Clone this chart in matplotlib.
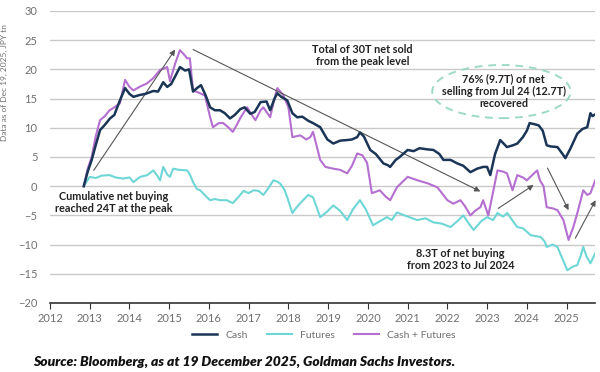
import matplotlib
matplotlib.use("Agg")
import matplotlib.pyplot as plt
from matplotlib.patches import Ellipse

plt.rcParams['font.family'] = ['Lato', 'DejaVu Sans']

# --- data (decimal years, JPY tn) ---
cash_t = [2012.85, 2012.95, 2013.05, 2013.15, 2013.26, 2013.38, 2013.51, 2013.62, 2013.76, 2013.89,
          2014.0, 2014.1, 2014.25, 2014.4, 2014.6, 2014.72, 2014.85, 2014.95, 2015.05, 2015.15,
          2015.27, 2015.4, 2015.5, 2015.6, 2015.7, 2015.8, 2015.92, 2016.03, 2016.15, 2016.28,
          2016.4, 2016.53, 2016.65, 2016.79, 2016.9, 2017.04, 2017.15, 2017.3, 2017.45, 2017.54,
          2017.65, 2017.72, 2017.82, 2017.97, 2018.1, 2018.22, 2018.35, 2018.5, 2018.62, 2018.8,
          2018.98, 2019.13, 2019.3, 2019.48, 2019.6, 2019.73, 2019.8, 2019.9, 2020.06, 2020.2,
          2020.39, 2020.5, 2020.56, 2020.7, 2020.8, 2021.0, 2021.15, 2021.3, 2021.5, 2021.65,
          2021.8, 2021.9, 2022.08, 2022.25, 2022.4, 2022.58, 2022.75, 2022.9, 2023.0, 2023.08,
          2023.2, 2023.33, 2023.5, 2023.65, 2023.76, 2023.9, 2024.0, 2024.07, 2024.2, 2024.3,
          2024.4, 2024.5, 2024.6, 2024.77, 2024.9, 2024.97, 2025.1, 2025.27, 2025.4, 2025.52,
          2025.6, 2025.65, 2025.72]
cash = [0, 2.5, 4.5, 7, 9.6, 10.5, 11.6, 12.2, 14.7, 16.8,
        15.8, 15.3, 15.6, 15.8, 16.3, 16.2, 17.8, 17.0, 17.5, 18.8,
        20.4, 19.8, 20.0, 16.2, 16.8, 17.3, 15.5, 13.5, 13.0, 13.0,
        12.5, 11.6, 12.2, 13.2, 13.5, 12.4, 12.7, 14.4, 14.5, 13.0,
        15.0, 15.9, 15.3, 14.7, 12.5, 11.8, 11.9, 11.2, 10.8, 10.1,
        8.0, 7.3, 7.8, 7.9, 8.0, 8.4, 9.2, 8.5, 6.2, 5.5,
        3.9, 3.6, 3.3, 4.5, 5.0, 6.2, 6.0, 6.5, 6.3, 6.2,
        5.5, 4.5, 4.5, 3.9, 3.5, 2.4, 3.0, 3.3, 3.3, 1.9,
        5.5, 7.9, 6.7, 7.0, 7.3, 8.4, 9.5, 10.8, 10.6, 10.4,
        9.5, 7.0, 6.8, 6.7, 5.5, 4.8, 6.5, 9.0, 9.8, 10.1,
        12.5, 12.0, 12.3]

fut_t = [2012.85, 2013.0, 2013.15, 2013.3, 2013.5, 2013.65, 2013.84, 2014.0, 2014.1, 2014.27,
         2014.45, 2014.6, 2014.7, 2014.77, 2014.85, 2014.95, 2015.02, 2015.1, 2015.25, 2015.45,
         2015.52, 2015.6, 2015.7, 2015.78, 2015.95, 2016.03, 2016.15, 2016.28, 2016.45, 2016.6,
         2016.75, 2016.87, 2017.0, 2017.12, 2017.25, 2017.37, 2017.5, 2017.62, 2017.72, 2017.8,
         2017.9, 2017.97, 2018.1, 2018.22, 2018.37, 2018.5, 2018.62, 2018.8, 2018.95, 2019.13,
         2019.3, 2019.48, 2019.62, 2019.8, 2019.95, 2020.13, 2020.3, 2020.48, 2020.6, 2020.73,
         2021.0, 2021.24, 2021.45, 2021.65, 2021.85, 2022.08, 2022.25, 2022.4, 2022.55, 2022.66,
         2022.85, 2023.0, 2023.15, 2023.26, 2023.4, 2023.51, 2023.65, 2023.76, 2023.9, 2024.1,
         2024.35, 2024.45, 2024.5, 2024.65, 2024.77, 2024.9, 2025.02, 2025.15, 2025.27, 2025.35,
         2025.42, 2025.5, 2025.6, 2025.72]
futures = [0, 1.6, 1.4, 1.8, 1.9, 1.5, 1.3, 1.5, 0.7, 1.6,
           1.9, 2.7, 1.8, 1.0, 3.3, 2.0, 1.6, 3.0, 2.8, 2.7,
           2.0, 0.7, -0.5, -0.7, -1.9, -2.4, -2.2, -2.4, -2.4, -2.9,
           -1.8, -0.8, -1.2, -0.7, -0.8, -1.5, -0.3, 1.0, 0.8, 0.4,
           -0.6, -1.9, -4.6, -3.5, -2.4, -1.5, -1.9, -5.3, -4.5, -3.3,
           -4.2, -5.8, -4.0, -2.4, -4.0, -6.7, -6.0, -5.3, -5.8, -4.5,
           -5.2, -5.8, -5.5, -6.2, -6.4, -7.0, -6.0, -5.0, -6.5, -7.5,
           -6.0, -5.3, -5.8, -4.6, -5.2, -4.6, -6.0, -7.0, -7.2, -8.4,
           -8.7, -9.5, -10.4, -10.0, -10.4, -12.5, -14.4, -13.8, -13.5, -12.0,
           -10.4, -12.0, -13.2, -11.5]

both_t = [2012.85, 2012.95, 2013.05, 2013.15, 2013.26, 2013.38, 2013.5, 2013.62, 2013.76, 2013.89,
          2014.0, 2014.1, 2014.25, 2014.44, 2014.6, 2014.77, 2014.95, 2015.02, 2015.15, 2015.27,
          2015.38, 2015.45, 2015.52, 2015.6, 2015.75, 2015.9, 2016.03, 2016.1, 2016.25, 2016.36,
          2016.5, 2016.6, 2016.7, 2016.8, 2016.96, 2017.1, 2017.17, 2017.3, 2017.37, 2017.54,
          2017.65, 2017.72, 2017.87, 2018.0, 2018.1, 2018.3, 2018.45, 2018.55, 2018.62, 2018.8,
          2018.93, 2019.13, 2019.3, 2019.48, 2019.6, 2019.73, 2019.86, 2019.98, 2020.1, 2020.3,
          2020.45, 2020.56, 2020.73, 2021.0, 2021.25, 2021.5, 2021.75, 2022.0, 2022.15, 2022.33,
          2022.45, 2022.58, 2022.7, 2022.83, 2022.9, 2023.03, 2023.15, 2023.26, 2023.4, 2023.5,
          2023.64, 2023.76, 2023.9, 2024.0, 2024.15, 2024.26, 2024.33, 2024.42, 2024.5, 2024.65,
          2024.77, 2024.92, 2025.05, 2025.17, 2025.27, 2025.42, 2025.52, 2025.6, 2025.72]
both = [0, 3, 5, 8.5, 11.3, 12.0, 13.0, 13.5, 14.2, 18.2,
        17.0, 16.4, 17.0, 17.6, 18.5, 19.9, 20.4, 18.0, 21.0, 23.3,
        22.5, 21.9, 21.9, 16.4, 16.0, 15.5, 11.8, 10.1, 10.8, 10.8,
        10.0, 9.3, 10.5, 11.8, 13.5, 12.0, 11.3, 13.0, 13.5, 11.8,
        15.0, 16.8, 15.6, 13.5, 8.4, 8.7, 8.0, 8.4, 9.3, 4.5,
        3.3, 3.0, 2.8, 2.2, 3.5, 5.6, 5.3, 4.0, -1.2, -0.7,
        -1.8, -2.4, -0.2, 1.6, 1.0, 0.5, -0.2, -2.4, -3.0, -2.4,
        -3.5, -5.0, -4.2, -3.6, -2.4, -5.0, -1.0, 2.7, 2.5, 2.2,
        -0.7, 1.9, 1.5, 1.0, 2.0, 2.7, 1.0, 0.0, -3.6, -3.8,
        -4.1, -5.8, -9.2, -7.0, -4.6, -0.7, -1.5, -1.2, 1.0]

years = list(range(2012, 2026))
yticks = list(range(-20, 31, 5))

fig = plt.figure(figsize=(6, 3.72), dpi=100)
ax = fig.add_axes([0.0833, 0.1855, 0.9087, 0.785])

ax.plot(cash_t, cash, color='#1b3557', lw=1.8, label='Cash', zorder=4)
ax.plot(fut_t, futures, color='#6fd6d6', lw=1.5, label='Futures', zorder=3)
ax.plot(both_t, both, color='#b56fd0', lw=1.5, label='Cash + Futures', zorder=3)

ax.set_xlim(2012, 2025.72)
ax.set_ylim(-20, 30)
ax.set_xticks(years)
ax.set_yticks(yticks)
ax.yaxis.grid(True, color='#c9c9c9', lw=1.0)
ax.set_axisbelow(True)
for s in ['left', 'right', 'top']:
    ax.spines[s].set_visible(False)
ax.spines['bottom'].set_color('#333333')
ax.spines['bottom'].set_linewidth(1.2)
ax.tick_params(axis='y', length=0, labelsize=8, labelcolor='#707070', pad=9)
ax.tick_params(axis='x', length=4, direction='out', color='#333333', labelsize=8,
               labelcolor='#707070', pad=3)
ax.set_ylabel('Data as of Dec 19, 2025, JPY tn', fontsize=6, color='#707070')
ax.yaxis.set_label_coords(-0.077, 0.755)

# annotations
arrow = dict(arrowstyle='-|>', color='#555555', lw=0.8, mutation_scale=8, shrinkA=0, shrinkB=0)
ax.annotate('', xy=(2015.15, 23.4), xytext=(2013.1, 2.7), arrowprops=arrow)
ax.annotate('', xy=(2022.83, -0.9), xytext=(2015.6, 23.4), arrowprops=arrow)
ax.annotate('', xy=(2024.17, 0.2), xytext=(2023.28, -3.8), arrowprops=arrow)
ax.annotate('', xy=(2025.05, -4.1), xytext=(2024.52, 3.1), arrowprops=arrow)
ax.annotate('', xy=(2025.73, -2.4), xytext=(2025.22, -8.9), arrowprops=arrow)

tkw = dict(fontsize=7.8, fontweight='bold', color='#222222', ha='center', va='center',
           linespacing=1.15)
ax.text(2013.6, -2.8, 'Cumulative net buying\nreached 24T at the peak', **tkw)
ax.text(2019.86, 22.4, 'Total of 30T net sold\nfrom the peak level', **tkw)
ax.text(2023.42, 16.3, '76% (9.7T) of net\nselling from Jul 24 (12.7T)\nrecovered', **tkw)
ax.text(2022.33, -12.5, '8.3T of net buying\nfrom 2023 to Jul 2024', **tkw)

ax.add_patch(Ellipse((2023.36, 16.2), 3.48, 9.1, fill=False, edgecolor='#9ed9c8',
                     lw=1.4, linestyle=(0, (4, 3)), zorder=5))

fig.legend(loc='center', bbox_to_anchor=(0.54, 0.099), ncol=3, frameon=False,
           fontsize=7.5, labelcolor='#707070', handlelength=2.4, handletextpad=0.8,
           columnspacing=1.8)

fig.text(0.055, 0.027, 'Source: Bloomberg, as at 19 December 2025, Goldman Sachs Investors.',
         fontsize=10, fontweight='heavy', fontstyle='italic', color='#111111',
         ha='left', va='center')

fig.savefig('out.png', dpi=100)
